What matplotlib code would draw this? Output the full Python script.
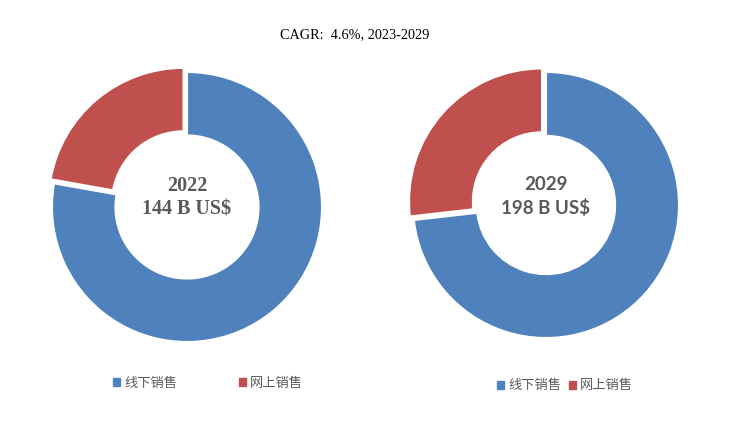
import matplotlib.pyplot as plt
from matplotlib.patches import Patch

# data
labels = ["线下销售", "网上销售"]
years = ["2022", "2029"]
totals = ["144 B US$", "198 B US$"]
share_2022 = [77.8, 22.2]   # offline, online (%)
share_2029 = [73.2, 26.8]
colors = ["#4F81BD", "#C0504D"]

W, H = 753, 437
fig = plt.figure(figsize=(W / 100, H / 100), dpi=100)

fig.text(355 / W, 1 - 35 / H, "CAGR:  4.6%, 2023-2029", ha="center", va="center",
         fontsize=10.3, family="Liberation Serif", color="black")


def donut(cx, cy, r, shares, year, total, fam, fs, hole):
    size = 2.4 * r
    ax = fig.add_axes([(cx - size / 2) / W, (H - cy - size / 2) / H, size / W, size / H])
    # red (online) first so it starts at 12 o'clock and goes counterclockwise
    ax.pie([shares[1], shares[0]], colors=[colors[1], colors[0]], startangle=90,
           counterclock=True, explode=[0.04, 0], radius=1,
           wedgeprops=dict(width=1 - hole, edgecolor="white", linewidth=1.5))
    ax.set_xlim(-1.2, 1.2)
    ax.set_ylim(-1.2, 1.2)
    ax.set_aspect("equal")
    ax.axis("off")
    ax.text(0, 0.155, year, ha="center", va="center", fontsize=fs, fontweight="bold",
            color="#595959", family=fam)
    ax.text(0, -0.02, total, ha="center", va="center", fontsize=fs, fontweight="bold",
            color="#595959", family=fam)
    return ax


donut(187, 207, 135, share_2022, years[0], totals[0], "Liberation Serif", 14.5, 0.53)
donut(546, 205, 133, share_2029, years[1], totals[1], "Lato", 13.5, 0.52)

handles = [Patch(color=c) for c in colors]
leg_font = {"family": ["Noto Sans CJK SC", "DejaVu Sans"], "size": 9.5}

leg1 = fig.legend(handles, labels, loc="center", bbox_to_anchor=(208 / W, 1 - 383 / H),
                  ncol=2, frameon=False, handlelength=0.5, handleheight=0.5,
                  handletextpad=0.3, columnspacing=4.7, prop=leg_font)
for t in leg1.get_texts():
    t.set_color("#595959")

leg2 = fig.legend(handles, labels, loc="center", bbox_to_anchor=(565 / W, 1 - 386 / H),
                  ncol=2, frameon=False, handlelength=0.5, handleheight=0.5,
                  handletextpad=0.3, columnspacing=0.6, prop=leg_font)
for t in leg2.get_texts():
    t.set_color("#595959")

fig.savefig("out.png", dpi=100)
